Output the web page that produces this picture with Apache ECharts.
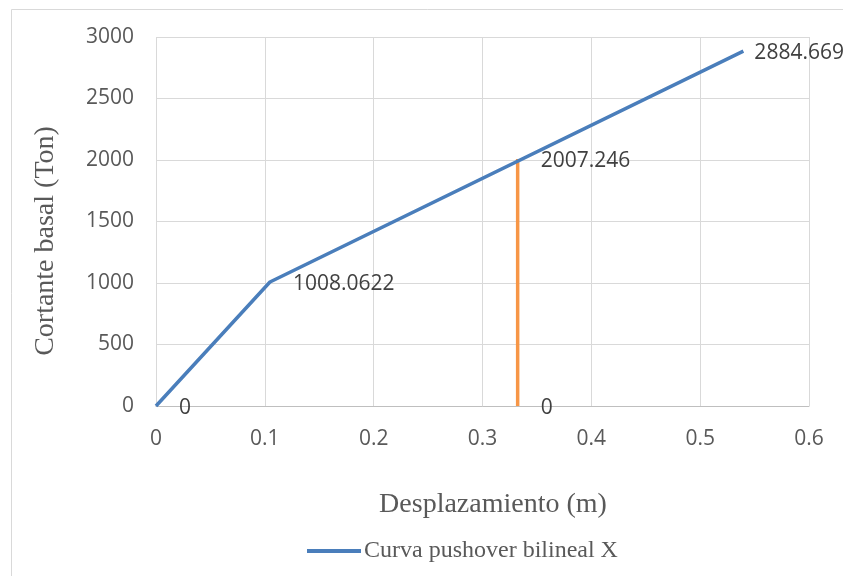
<!DOCTYPE html>
<html>
<head>
<meta charset="utf-8">
<script src="https://cdn.jsdelivr.net/npm/echarts@6/dist/echarts.min.js"></script>
<style>
  html, body { margin: 0; padding: 0; background: #fff; }
  #chart { width: 843px; height: 576px; }
</style>
</head>
<body>
<div id="chart"></div>
<script>
// Bilinear pushover curve: displacement (m) vs base shear (Ton)
const curveDisp = [0, 0.1047, 0.5397];
const curveShear = [0, 1008.0622, 2884.669];

// Vertical marker at the performance point
const markerDisp = [0.3323, 0.3323];
const markerShear = [0, 2007.246];

const xTicks = { min: 0, max: 0.6, interval: 0.1 };
const yTicks = { min: 0, max: 3000, interval: 500 };

const seriesName = 'Curva pushover bilineal X';
const xTitle = 'Desplazamiento (m)';
const yTitle = 'Cortante basal (Ton)';

const labelFont = { fontFamily: 'Open Sans', fontSize: 21, color: '#404040', offset: [0, 2] };
const titleFont = 'normal 28px "Liberation Serif"';

function pairs(xs, ys, lastDistance) {
  return xs.map((x, i) => {
    const item = { value: [x, ys[i]] };
    if (lastDistance !== undefined && i === xs.length - 1) {
      item.label = { distance: lastDistance };
    }
    return item;
  });
}

const chart = echarts.init(document.getElementById('chart'), null, { renderer: 'canvas' });
chart.setOption({
  animation: false,
  backgroundColor: '#ffffff',
  graphic: [
    {
      type: 'rect',
      shape: { x: 11.5, y: 9.5, width: 900, height: 700 },
      style: { fill: 'none', stroke: '#d9d9d9', lineWidth: 1 },
      silent: true,
      z: -1
    },
    {
      type: 'text',
      x: 46, y: 241,
      rotation: Math.PI / 2,
      style: { text: yTitle, font: titleFont, fill: '#595959', align: 'center', verticalAlign: 'middle' },
      silent: true
    },
    {
      type: 'text',
      x: 493, y: 505,
      style: { text: xTitle, font: titleFont, fill: '#595959', align: 'center', verticalAlign: 'middle' },
      silent: true
    }
  ],
  grid: { left: 156, right: 34, top: 37, bottom: 170 },
  legend: {
    data: [{ name: seriesName }],
    bottom: 8,
    left: 302,
    itemWidth: 54,
    itemHeight: 4,
    itemGap: 4,
    icon: 'rect',
    textStyle: { fontFamily: 'Liberation Serif', fontSize: 24, color: '#595959', padding: [0, 0, 0, -2] }
  },
  xAxis: {
    type: 'value',
    min: xTicks.min, max: xTicks.max, interval: xTicks.interval,
    axisLine: { show: true, lineStyle: { color: '#bfbfbf', width: 1 } },
    axisTick: { show: false },
    axisLabel: { margin: 23, fontFamily: 'Open Sans', fontSize: 21, color: '#595959' },
    splitLine: { show: true, lineStyle: { color: '#d9d9d9', width: 1 } }
  },
  yAxis: {
    type: 'value',
    min: yTicks.min, max: yTicks.max, interval: yTicks.interval,
    axisLine: { show: false },
    axisTick: { show: false },
    axisLabel: { margin: 22, fontFamily: 'Open Sans', fontSize: 21, color: '#595959', formatter: v => String(v) },
    splitLine: { show: true, lineStyle: { color: '#d9d9d9', width: 1 } }
  },
  series: [
    {
      name: seriesName,
      type: 'line',
      data: pairs(curveDisp, curveShear, 11),
      showSymbol: true,
      symbol: 'circle',
      symbolSize: 0,
      lineStyle: { color: '#4a7ebb', width: 3.5 },
      itemStyle: { color: '#4a7ebb' },
      label: Object.assign({ show: true, position: 'right', distance: 23 }, labelFont),
      z: 3
    },
    {
      name: 'marker',
      type: 'line',
      data: pairs(markerDisp, markerShear),
      showSymbol: true,
      symbol: 'circle',
      symbolSize: 0,
      lineStyle: { color: '#f79646', width: 3.5 },
      itemStyle: { color: '#f79646' },
      label: Object.assign({ show: true, position: 'right', distance: 23 }, labelFont),
      z: 2
    }
  ]
});
</script>
</body>
</html>
